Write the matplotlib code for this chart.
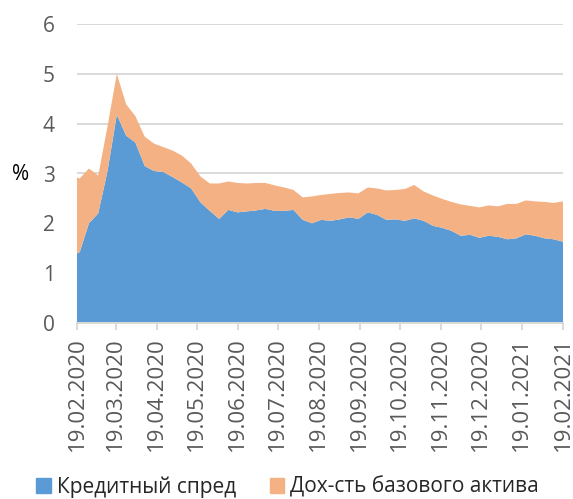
import matplotlib.pyplot as plt
import matplotlib.dates as mdates
from matplotlib.patches import Patch
import pandas as pd
import numpy as np

plt.rcParams['font.family'] = ['Open Sans', 'DejaVu Sans']

# weekly observations (first point 19.02.2020, then Fridays)
dates = pd.to_datetime(['2020-02-19']).append(
    pd.date_range('2020-02-21', '2021-02-19', freq='7D'))

credit_spread = [1.40, 1.42, 2.00, 2.20, 3.05, 4.18, 3.76, 3.62, 3.15, 3.05,
                 3.03, 2.93, 2.82, 2.70, 2.42, 2.25, 2.09, 2.27, 2.22, 2.24,
                 2.26, 2.29, 2.25, 2.25, 2.27, 2.07, 2.00, 2.07, 2.05, 2.08,
                 2.12, 2.09, 2.22, 2.17, 2.07, 2.08, 2.05, 2.10, 2.05, 1.95,
                 1.91, 1.85, 1.75, 1.77, 1.71, 1.75, 1.73, 1.68, 1.70, 1.78,
                 1.75, 1.70, 1.68, 1.63]
total_yield = [2.92, 2.90, 3.10, 2.96, 3.95, 5.00, 4.39, 4.15, 3.74, 3.60,
               3.53, 3.46, 3.36, 3.20, 2.94, 2.80, 2.80, 2.84, 2.81, 2.80,
               2.81, 2.81, 2.76, 2.72, 2.67, 2.52, 2.54, 2.57, 2.59, 2.61,
               2.62, 2.60, 2.72, 2.70, 2.66, 2.67, 2.69, 2.77, 2.64, 2.56,
               2.49, 2.43, 2.38, 2.35, 2.32, 2.36, 2.34, 2.39, 2.39, 2.46,
               2.44, 2.43, 2.41, 2.44]
base_yield = list(np.round(np.array(total_yield) - np.array(credit_spread), 2))

labels = ['Кредитный спред', 'Дох-сть базового актива']
colors = ['#5B9BD5', '#F4B183']

fig = plt.figure(figsize=(5.73, 4.99), dpi=100)
ax = fig.add_axes([77/573, 1 - 323/499, (563 - 77)/573, (323 - 24)/499])

ax.stackplot(dates, credit_spread, base_yield, colors=colors, linewidth=0)

ax.set_ylim(0, 6)
ax.set_yticks(range(0, 7))
ax.set_xlim(pd.Timestamp('2020-02-19'), pd.Timestamp('2021-02-19'))
ticks = [pd.Timestamp(2020, m, 19) for m in range(2, 13)] + \
        [pd.Timestamp(2021, m, 19) for m in (1, 2)]
ax.set_xticks(ticks)
ax.xaxis.set_major_formatter(mdates.DateFormatter('%d.%m.%Y'))

ax.grid(axis='y', color='#d9d9d9', linewidth=1.4)
ax.set_axisbelow(True)
for s in ['top', 'right', 'left']:
    ax.spines[s].set_visible(False)
ax.spines['bottom'].set_color('#d9d9d9')
ax.spines['bottom'].set_linewidth(1.4)

ax.tick_params(axis='y', length=0, pad=16, labelsize=15, labelcolor='#595959')
ax.tick_params(axis='x', length=5, width=1.4, color='#d9d9d9', pad=5,
               labelsize=16, labelcolor='#595959', labelrotation=90)
for t in ax.get_xticklabels():
    t.set_va('top')
    t.set_ha('center')

fig.text(21/573, 1 - 175/499, '%', fontsize=15, color='black',
         ha='center', va='center')

handles = [Patch(color=c, label=l) for c, l in zip(colors, labels)]
fig.legend(handles=handles, loc='center', bbox_to_anchor=(0.502, 1 - 487/499),
           ncol=2, frameon=False, fontsize=15, handlelength=0.7,
           handleheight=0.7, handletextpad=0.3, columnspacing=1.6,
           labelcolor='#262626')

plt.savefig('out.png', dpi=100)
